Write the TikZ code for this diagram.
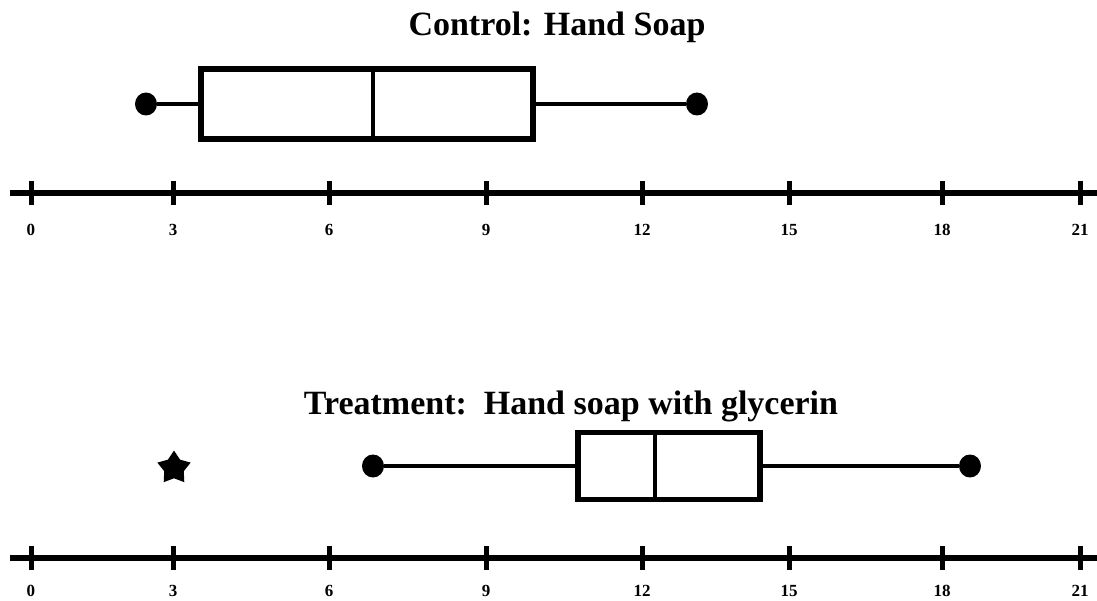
\documentclass[tikz,border=0pt]{standalone}
\usepackage{fontspec}
\setmainfont{Liberation Serif}
\usetikzlibrary{shapes.geometric}
\begin{document}
\begin{tikzpicture}[x=1pt,y=-1pt,
  axisline/.style={line width=5.5pt},
  tickmark/.style={line width=5pt},
  ticklab/.style={font=\bfseries\fontsize{17}{19}\selectfont, inner sep=0pt},
  boxst/.style={draw, line width=5.5pt, inner sep=0pt},
  medline/.style={line width=4.5pt},
  whisk/.style={line width=4.5pt},
  dotst/.style={ellipse, fill, inner sep=0pt, minimum width=22pt, minimum height=23pt},
  starst/.style={star, star points=5, star point ratio=1.7, fill, inner sep=0pt, minimum size=35pt},
  ttl/.style={font=\bfseries\fontsize{34}{39}\selectfont, inner sep=0pt}]
\useasboundingbox (0,0) rectangle (1097,601);

% ---------- Control ----------
\node[ttl] (t1) at (557,27) {Control: Hand Soap};
\node[boxst, minimum width=332pt, minimum height=70pt] (b1) at (367,104) {};
\coordinate (m1) at (373,104);
\draw[medline] (m1 |- b1.north) -- (m1 |- b1.south);
\node[dotst] (d1l) at (146,104) {};
\node[dotst] (d1r) at (697,104) {};
\draw[whisk] (d1l) -- (b1.west);
\draw[whisk] (b1.east) -- (d1r);

\coordinate (a1l) at (10,193);
\coordinate (a1r) at (1097,193);
\draw[axisline] (a1l) -- (a1r);
\foreach \v/\x in {0/31,3/173,6/329,9/486,12/642,15/789,18/942,21/1080}{
  \draw[tickmark] (\x,181) -- (\x,205);
  \node[ticklab] (l1-\v) at (\x,230) {\v};
}

% ---------- Treatment ----------
\node[ttl] (t2) at (571,406) {Treatment:\ \ Hand soap with glycerin};
\node[boxst, minimum width=182pt, minimum height=67pt] (b2) at (669,466) {};
\coordinate (m2) at (655,466);
\draw[medline] (m2 |- b2.north) -- (m2 |- b2.south);
\node[dotst] (d2l) at (373,466) {};
\node[dotst] (d2r) at (970,466) {};
\draw[whisk] (d2l) -- (b2.west);
\draw[whisk] (b2.east) -- (d2r);
\node[starst] (s2) at (174,468) {};

\coordinate (a2l) at (10,558);
\coordinate (a2r) at (1097,558);
\draw[axisline] (a2l) -- (a2r);
\foreach \v/\x in {0/31,3/173,6/329,9/486,12/642,15/789,18/942,21/1080}{
  \draw[tickmark] (\x,546) -- (\x,570);
  \node[ticklab] (l2-\v) at (\x,591) {\v};
}
\end{tikzpicture}
\end{document}
